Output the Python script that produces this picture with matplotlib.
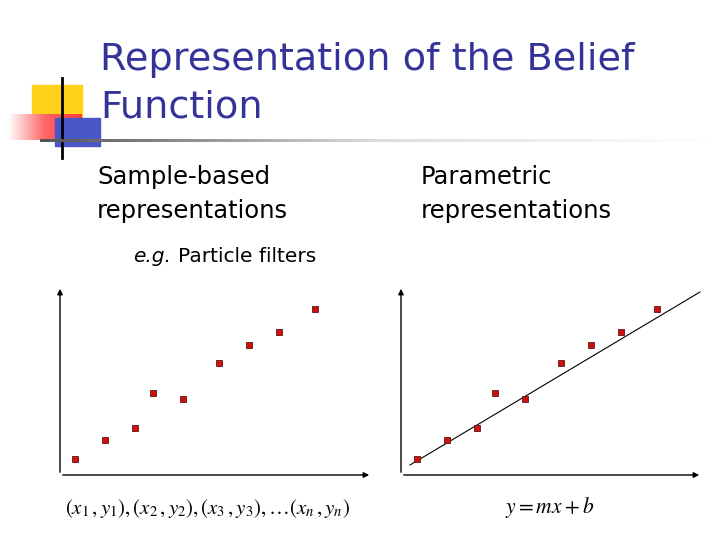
import matplotlib
matplotlib.use("Agg")
import matplotlib.pyplot as plt
from matplotlib.patches import Rectangle, FancyArrowPatch
from matplotlib.colors import LinearSegmentedColormap
import numpy as np

title = "Representation of the Belief\nFunction"
left_heading = "Sample-based\nrepresentations"
right_heading = "Parametric\nrepresentations"
left_x = [75, 105, 135, 153, 183, 219, 249, 279, 315]
left_y = [459, 440, 428, 393, 399, 363, 345, 332, 309]
right_x = [417, 447, 477, 495, 525, 561, 591, 621, 657]
right_y = [459, 440, 428, 393, 399, 363, 345, 332, 309]
fit_x = [410, 700]
fit_y = [465, 292]

plt.rcParams["mathtext.fontset"] = "stix"
fig = plt.figure(figsize=(7.2, 5.4), dpi=100)
ax = fig.add_axes([0, 0, 1, 1])
ax.axis("off")

ax.add_patch(Rectangle((32, 85), 50, 42, color="#ffd21a", zorder=1))
grad = np.linspace(0, 1, 100)[None, :]
cm = LinearSegmentedColormap.from_list("r", ["#ffffff", "#ff6666", "#ff3b3b"])
ax.imshow(grad, extent=(8, 82, 140, 114), cmap=cm, aspect="auto", zorder=2)
ax.add_patch(Rectangle((55, 118), 45, 28, color="#4a55c8", zorder=3))
ax.plot([62, 62], [78, 158], color="black", lw=2, zorder=4)
gcm = LinearSegmentedColormap.from_list("g", ["#555555", "#dddddd", "#ffffff"])
ax.imshow(grad, extent=(40, 720, 142, 139), cmap=gcm, aspect="auto", zorder=4)
ax.set_xlim(0, 720); ax.set_ylim(540, 0)

ax.text(100, 84, title, fontsize=27.5, color="#333399", va="center", ha="left", linespacing=1.42)
ax.text(97, 194, left_heading, fontsize=17.5, va="center", ha="left", linespacing=1.5)
ax.text(421, 194, right_heading, fontsize=17.5, va="center", ha="left", linespacing=1.5)
ax.text(133, 257, "e.g.", fontsize=14.5, style="italic", va="center", ha="left")
ax.text(178, 257, "Particle filters", fontsize=14.5, va="center", ha="left")

def axes_arrows(x0, x1):
    for (a, b) in [((x0, 475), (x0, 286)), ((x0, 475), (x1, 475))]:
        ax.add_patch(FancyArrowPatch(a, b, arrowstyle="-|>", mutation_scale=8, lw=1, color="black"))

axes_arrows(60, 372)
axes_arrows(401, 702)
ax.plot(fit_x, fit_y, color="black", lw=0.8)
ax.plot(left_x, left_y, "s", ms=5, mfc="#cc1111", mec="#661111", mew=0.6)
ax.plot(right_x, right_y, "s", ms=5, mfc="#cc1111", mec="#661111", mew=0.6)

ax.text(207, 508, r"$(x_1\,,y_1),(x_2\,,y_2),(x_3\,,y_3),\ldots(x_n\,,y_n)$",
        fontsize=15, ha="center", va="center")
ax.text(550, 508, r"$y=mx+b$", fontsize=15.5, ha="center", va="center")

fig.savefig("out.png", dpi=100)
